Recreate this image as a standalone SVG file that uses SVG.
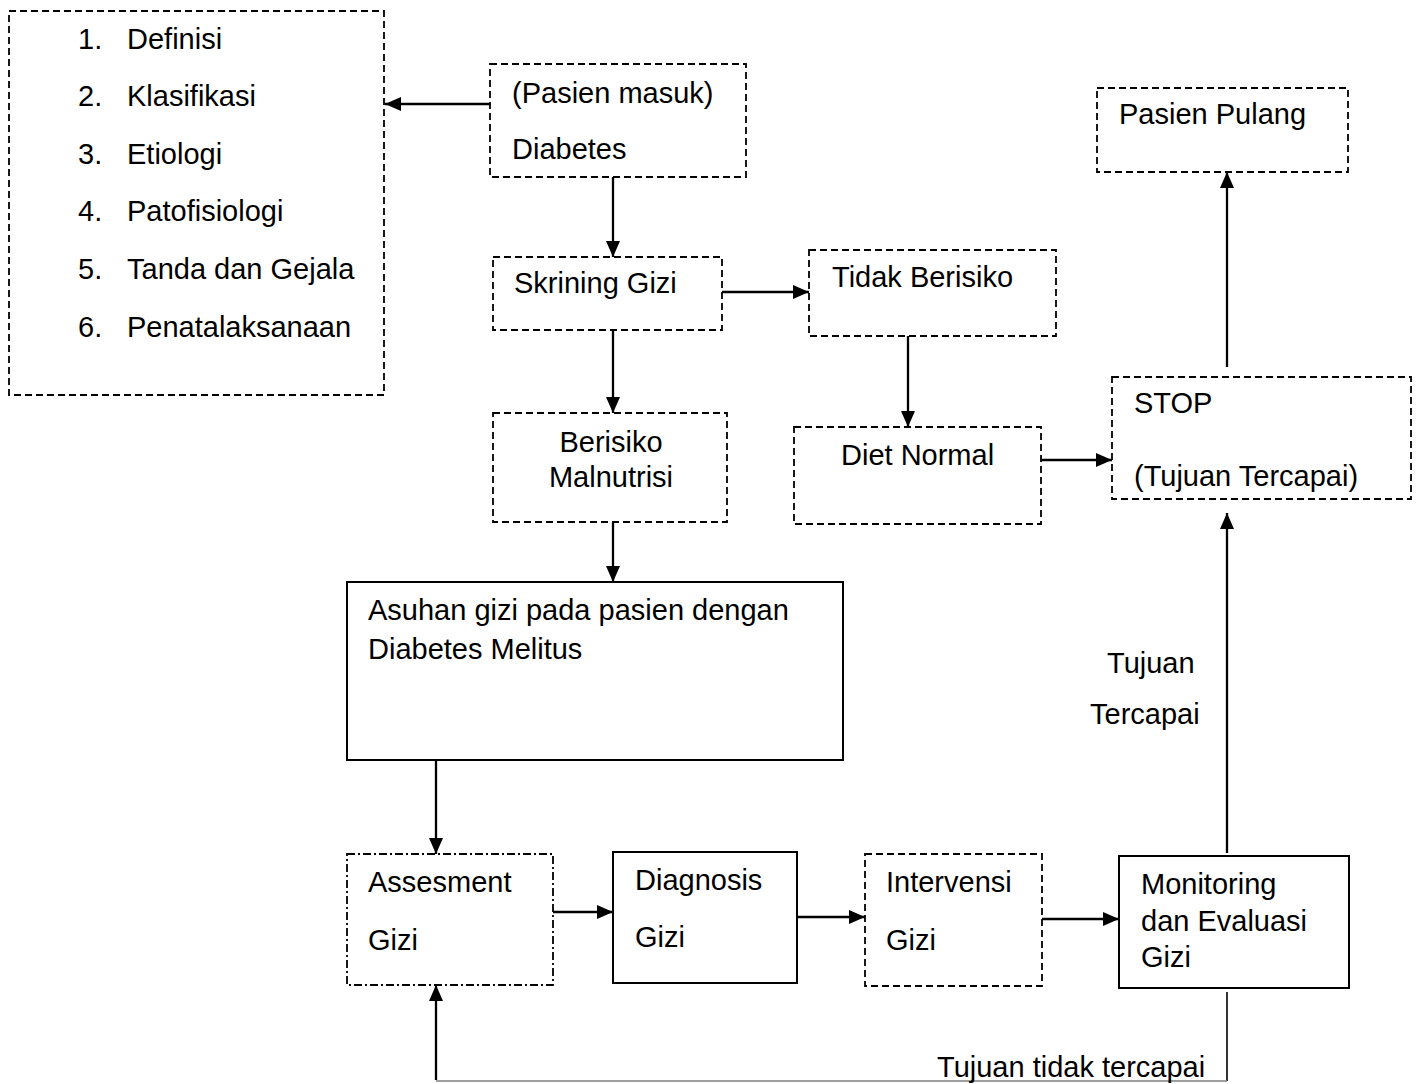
<svg xmlns="http://www.w3.org/2000/svg" width="1420" height="1084" viewBox="0 0 1420 1084">
<style>
text{font-family:"Liberation Sans",Arial,sans-serif;font-size:29px;fill:#000}
.d{fill:#fff;stroke:#000;stroke-width:1.8;stroke-dasharray:7 4}
.dd{fill:#fff;stroke:#000;stroke-width:1.8;stroke-dasharray:8 3 2 3}
.s{fill:#fff;stroke:#000;stroke-width:2}
.c{fill:none;stroke:#000;stroke-width:2.3}
.t{fill:none;stroke:#000;stroke-width:1.6}
</style>
<defs>
<marker id="ah" markerUnits="userSpaceOnUse" markerWidth="16" markerHeight="14" refX="16" refY="7" orient="auto">
<path d="M0,0 L16,7 L0,14 z" fill="#000"/>
</marker>
</defs>
<rect width="1420" height="1084" fill="#fff"/>
<g id="connectors">
<line class="c" x1="490" y1="104" x2="385" y2="104" marker-end="url(#ah)"/>
<line class="c" x1="613" y1="177" x2="613" y2="257" marker-end="url(#ah)"/>
<line class="c" x1="722" y1="292" x2="809" y2="292" marker-end="url(#ah)"/>
<line class="c" x1="613" y1="330" x2="613" y2="413" marker-end="url(#ah)"/>
<line class="c" x1="908" y1="336" x2="908" y2="427" marker-end="url(#ah)"/>
<line class="c" x1="1041" y1="460" x2="1112" y2="460" marker-end="url(#ah)"/>
<line class="c" x1="1227" y1="367" x2="1227" y2="172" marker-end="url(#ah)"/>
<line class="c" x1="613" y1="522" x2="613" y2="582" marker-end="url(#ah)"/>
<line class="c" x1="436" y1="760" x2="436" y2="854" marker-end="url(#ah)"/>
<line class="c" x1="553" y1="912" x2="613" y2="912" marker-end="url(#ah)"/>
<line class="c" x1="797" y1="917" x2="865" y2="917" marker-end="url(#ah)"/>
<line class="c" x1="1042" y1="919" x2="1119" y2="919" marker-end="url(#ah)"/>
<line class="c" x1="1227" y1="853" x2="1227" y2="513" marker-end="url(#ah)"/>
<line class="t" x1="1227" y1="992" x2="1227" y2="1081"/>
<line x1="436" y1="1081" x2="1227" y2="1081" stroke="#7f7f7f" stroke-width="1.5"/>
<line class="c" x1="436" y1="1080" x2="436" y2="985" marker-end="url(#ah)"/>
<text x="1107" y="673">Tujuan</text>
<text x="1090" y="724">Tercapai</text>
<text x="937" y="1077">Tujuan tidak tercapai</text>
</g>
<g id="materi">
<rect class="d" x="9" y="11" width="375" height="384"/>
<text x="78" y="49">1.</text><text x="127" y="49">Definisi</text>
<text x="78" y="106">2.</text><text x="127" y="106">Klasifikasi</text>
<text x="78" y="164">3.</text><text x="127" y="164">Etiologi</text>
<text x="78" y="221">4.</text><text x="127" y="221">Patofisiologi</text>
<text x="78" y="279">5.</text><text x="127" y="279">Tanda dan Gejala</text>
<text x="78" y="337">6.</text><text x="127" y="337">Penatalaksanaan</text>
</g>
<g id="pasien-masuk">
<rect class="d" x="490" y="64" width="256" height="113"/>
<text x="512" y="103">(Pasien masuk)</text>
<text x="512" y="159">Diabetes</text>
</g>
<g id="skrining">
<rect class="d" x="493" y="257" width="229" height="73"/>
<text x="514" y="293">Skrining Gizi</text>
</g>
<g id="tidak-berisiko">
<rect class="d" x="809" y="250" width="247" height="86"/>
<text x="832" y="287">Tidak Berisiko</text>
</g>
<g id="diet-normal">
<rect class="d" x="794" y="427" width="247" height="97"/>
<text x="841" y="465">Diet Normal</text>
</g>
<g id="stop">
<rect class="d" x="1112" y="377" width="299" height="122"/>
<text x="1134" y="413">STOP</text>
<text x="1134" y="486">(Tujuan Tercapai)</text>
</g>
<g id="pasien-pulang">
<rect class="d" x="1097" y="88" width="251" height="84"/>
<text x="1119" y="124">Pasien Pulang</text>
</g>
<g id="berisiko">
<rect class="d" x="493" y="413" width="234" height="109"/>
<text x="611" y="452" text-anchor="middle">Berisiko</text>
<text x="611" y="487" text-anchor="middle">Malnutrisi</text>
</g>
<g id="asuhan">
<rect class="s" x="347" y="582" width="496" height="178"/>
<text x="368" y="620">Asuhan gizi pada pasien dengan</text>
<text x="368" y="659">Diabetes Melitus</text>
</g>
<g id="assesment">
<rect class="dd" x="347" y="854" width="206" height="131"/>
<text x="368" y="892">Assesment</text>
<text x="368" y="950">Gizi</text>
</g>
<g id="diagnosis">
<rect class="s" x="613" y="852" width="184" height="131"/>
<text x="635" y="890">Diagnosis</text>
<text x="635" y="947">Gizi</text>
</g>
<g id="intervensi">
<rect class="d" x="865" y="854" width="177" height="132"/>
<text x="886" y="892">Intervensi</text>
<text x="886" y="950">Gizi</text>
</g>
<g id="monitoring">
<rect class="s" x="1119" y="856" width="230" height="132"/>
<text x="1141" y="894">Monitoring</text>
<text x="1141" y="931">dan Evaluasi</text>
<text x="1141" y="967">Gizi</text>
</g>
</svg>
